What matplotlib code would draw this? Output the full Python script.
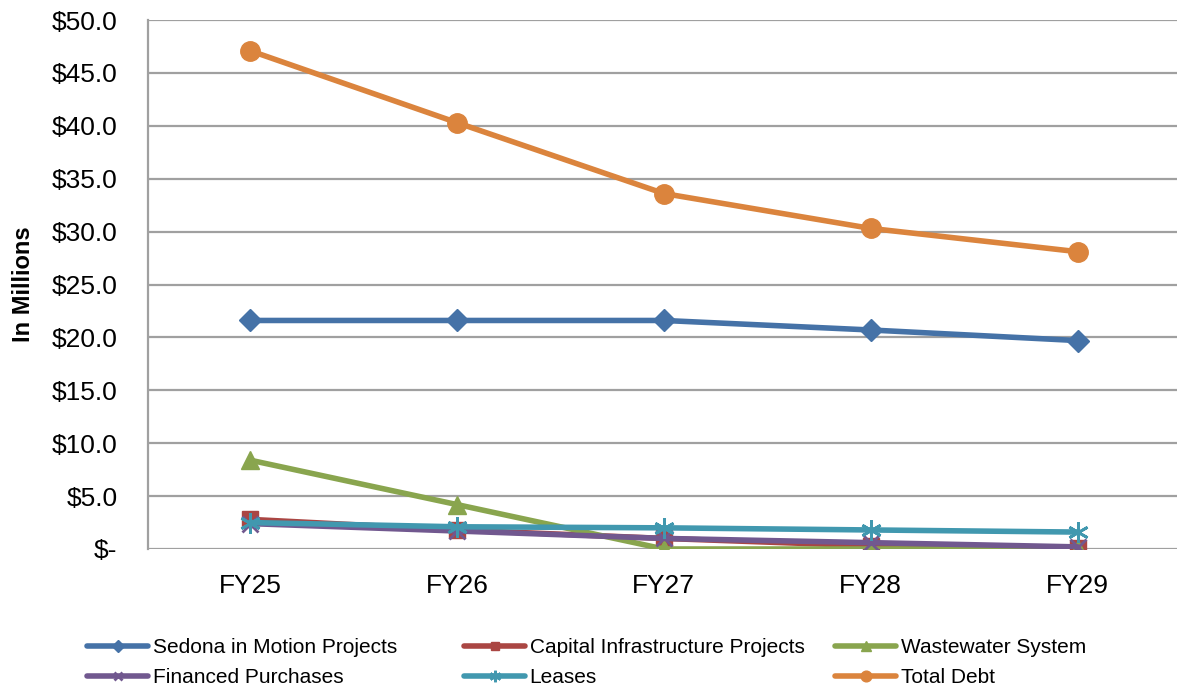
import matplotlib
matplotlib.use("Agg")
import matplotlib.pyplot as plt
from matplotlib.ticker import FuncFormatter

plt.rcParams["font.family"] = ["Liberation Sans", "DejaVu Sans"]

years = ["FY25", "FY26", "FY27", "FY28", "FY29"]
sedona = [21.6, 21.6, 21.6, 20.7, 19.7]
capital = [2.8, 1.8, 1.0, 0.3, 0.1]
wastewater = [8.4, 4.2, 0.0, 0.0, 0.0]
financed = [2.4, 1.7, 1.0, 0.6, 0.2]
leases = [2.5, 2.1, 2.0, 1.8, 1.6]
total = [47.1, 40.3, 33.6, 30.3, 28.1]

series = [
    ("Sedona in Motion Projects", sedona, "#4572A7", "D", 11, {}),
    ("Capital Infrastructure Projects", capital, "#AA4643", "s", 11, {}),
    ("Wastewater System", wastewater, "#89A54E", "^", 13, {}),
    ("Financed Purchases", financed, "#71588F", "x", 11, {"markeredgewidth": 2}),
    ("Leases", leases, "#4198AF", (6, 2, 0), 15, {"markeredgewidth": 2}),
    ("Total Debt", total, "#DB843D", "o", 14, {}),
]

fig = plt.figure(figsize=(11.77, 6.87), dpi=100)
ax = fig.add_axes([148 / 1177, (687 - 549) / 687, 1 - 148 / 1177, (549 - 20) / 687])

x = list(range(len(years)))
handles = {}
for name, vals, color, marker, ms, extra in series:
    (h,) = ax.plot(x, vals, color=color, lw=4, marker=marker, markersize=ms,
                   markerfacecolor=color, markeredgecolor=color,
                   solid_capstyle="round", label=name, **extra)
    handles[name] = h

ax.set_ylim(0, 50)
ax.set_xlim(-0.493, 4.48)
ax.set_yticks(range(0, 51, 5))
ax.yaxis.set_major_formatter(FuncFormatter(lambda v, p: "$-" if v == 0 else f"${v:.1f}"))
ax.set_xticks(x)
ax.set_xticklabels(years)
ax.tick_params(axis="both", length=0, labelsize=19, colors="black")
ax.tick_params(axis="y", pad=22)
ax.tick_params(axis="x", pad=18)
ax.yaxis.grid(True, color="#a0a0a0", lw=1.6)
ax.set_axisbelow(True)
for s in ["top", "right", "bottom"]:
    ax.spines[s].set_visible(False)
ax.spines["left"].set_color("#a0a0a0")
ax.spines["left"].set_linewidth(1.6)
ax.set_ylabel("In Millions", fontsize=17, fontweight="bold")
ax.yaxis.set_label_coords(-0.11, 0.5)

columns = [
    (["Sedona in Motion Projects", "Financed Purchases"], 87),
    (["Capital Infrastructure Projects", "Leases"], 464),
    (["Wastewater System", "Total Debt"], 835),
]
for names, xpix in columns:
    fig.legend([handles[n] for n in names], names,
               loc="upper left", bbox_to_anchor=(xpix / 1177, 1 - 638 / 687),
               frameon=False, fontsize=15, handlelength=2.95,
               handletextpad=0.2, labelspacing=0.55, markerscale=0.55,
               borderpad=0, borderaxespad=0)

fig.savefig("out.png", dpi=100)
